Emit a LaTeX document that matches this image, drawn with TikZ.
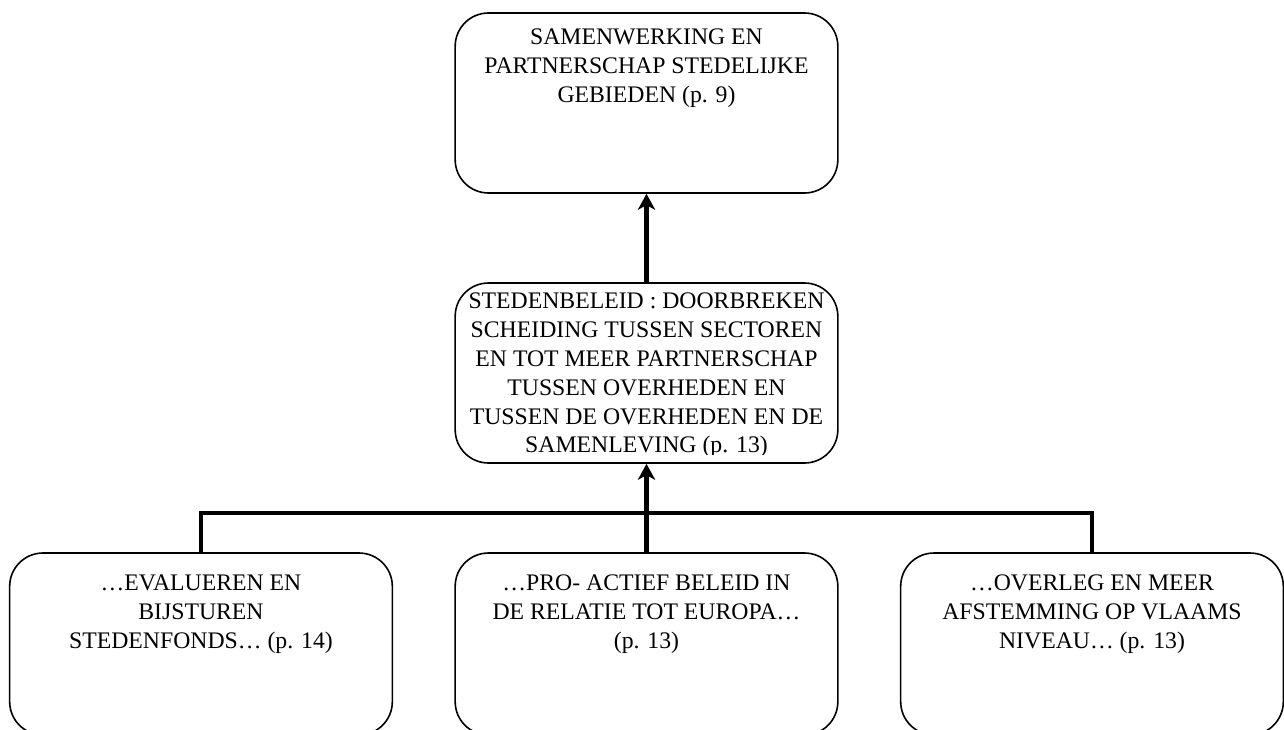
\documentclass[tikz,border=0pt]{standalone}
\usepackage{fontspec}
\setmainfont{Liberation Serif}
\usetikzlibrary{arrows.meta}
\begin{document}
\begin{tikzpicture}[x=0.75pt,y=-0.75pt,
  box/.style={draw, line width=1.2pt, rounded corners=25pt, minimum width=287pt, minimum height=135pt, inner sep=0pt},
  link/.style={line width=3.6pt, line join=miter},
  uparrow/.style={link, -{Stealth[length=12pt,width=13pt,inset=3.5pt]}},
  label/.style={align=center, font=\fontsize{17.8}{21.6}\selectfont, inner sep=0pt, anchor=north}]
\useasboundingbox (0,0) rectangle (1284,729);
\clip (0,0) rectangle (1284,729);

% boxes
\node[box] (top) at (646.5,103) {};
\node[box] (mid) at (646.5,373) {};
\node[box, minimum height=136.5pt] (left) at (201,644) {};
\node[box, minimum height=136.5pt] (centre) at (646.5,644) {};
\node[box, minimum height=136.5pt] (right) at (1092,644) {};

% texts
\node[label] (toptext) at (646.5,29) {SAMENWERKING EN\\PARTNERSCHAP STEDELIJKE\\GEBIEDEN (p. 9)};
\begin{scope}
  \clip (455,283) rectangle (838,454);
  \node[label] (midtext) at (646.5,293) {STEDENBELEID : DOORBREKEN\\SCHEIDING TUSSEN SECTOREN\\EN TOT MEER PARTNERSCHAP\\TUSSEN OVERHEDEN EN\\TUSSEN DE OVERHEDEN EN DE\\SAMENLEVING (p. 13)};
\end{scope}
\node[label] (lefttext) at (201,575) {…EVALUEREN EN\\BIJSTUREN\\STEDENFONDS… (p. 14)};
\node[label] (centretext) at (646.5,575) {…PRO- ACTIEF BELEID IN\\DE RELATIE TOT EUROPA…\\(p. 13)};
\node[label] (righttext) at (1092,575) {…OVERLEG EN MEER\\AFSTEMMING OP VLAAMS\\NIVEAU… (p. 13)};

% connectors
\coordinate (bus) at (646.5,513);
\draw[link] (left.north) |- (bus) -| (right.north);
\draw[uparrow] (centre.north) -- (mid.south);
\draw[uparrow] (mid.north) -- (top.south);
\end{tikzpicture}
\end{document}
